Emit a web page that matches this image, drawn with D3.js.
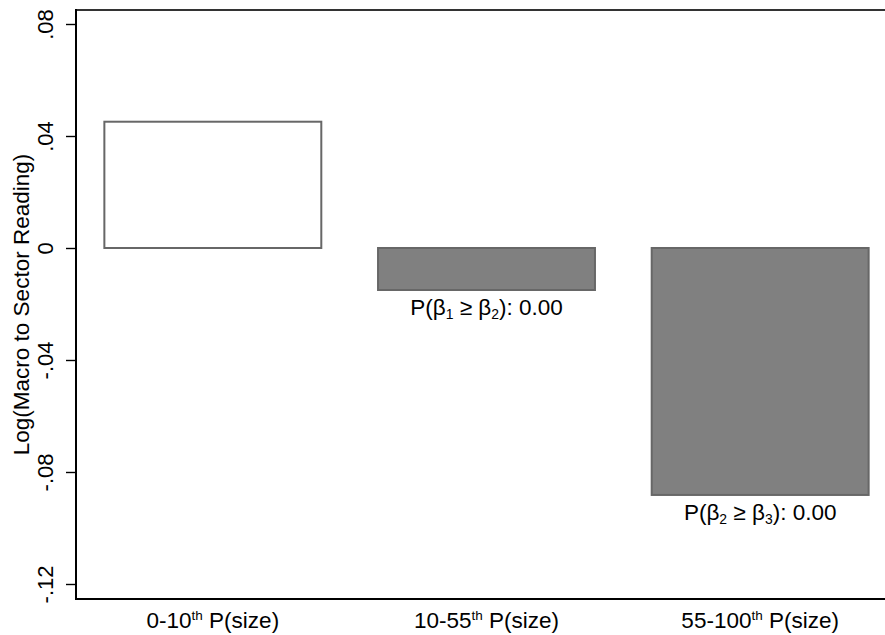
<!DOCTYPE html>
<html>
<head>
<meta charset="utf-8">
<script src="https://cdn.jsdelivr.net/npm/d3@7"></script>
<style>
  html, body { margin: 0; padding: 0; background: #fff; }
  svg { display: block; }
  text { font-family: Arial, "Liberation Sans", Helvetica, sans-serif; fill: #000; }
</style>
</head>
<body>
<svg id="chart" width="885" height="635"></svg>
<script>
// ---- data ----
const categories = ["0-10", "10-55", "55-100"];
const values = [0.0451, -0.0150, -0.0882];
const barFills = ["#ffffff", "#808080", "#808080"];
const yTicks = [0.08, 0.04, 0, -0.04, -0.08, -0.12];
const yTickLabels = [".08", ".04", "0", "-.04", "-.08", "-.12"];
const testBars = [1, 2];
const testBetas = [["1", "2"], ["2", "3"]];
const testValues = ["0.00", "0.00"];
const yTitle = "Log(Macro to Sector Reading)";

// ---- layout ----
const W = 885, H = 635;
const plotLeft = 76, plotTop = 10, plotBottom = 599;
const fontSize = 22.5;
const tickFont = 22;

const svg = d3.select("#chart");

const y = d3.scaleLinear().domain([-0.12536, 0.085]).range([plotBottom, plotTop]);
const x = d3.scaleBand().domain(categories).range([plotLeft, 897]).paddingInner(0.2).paddingOuter(0.1);

// top frame line
svg.append("line").attr("x1", plotLeft).attr("x2", W).attr("y1", plotTop).attr("y2", plotTop)
  .attr("stroke", "#333").attr("stroke-width", 2);

// bars
svg.append("g").selectAll("rect").data(values).join("rect")
  .attr("x", (d, i) => x(categories[i]) + 1)
  .attr("width", x.bandwidth() - 2)
  .attr("y", d => Math.min(y(d), y(0)))
  .attr("height", d => Math.abs(y(d) - y(0)))
  .attr("fill", (d, i) => barFills[i])
  .attr("stroke", "#676767")
  .attr("stroke-width", 2);

// y axis
const yAxis = d3.axisLeft(y).tickValues(yTicks).tickSize(10)
  .tickFormat((d, i) => yTickLabels[i]);
const gy = svg.append("g").attr("transform", `translate(${plotLeft},0)`).call(yAxis);
gy.select(".domain").remove();
gy.selectAll(".tick line").attr("stroke", "#000").attr("stroke-width", 1.4);
gy.selectAll(".tick text")
  .attr("font-size", tickFont)
  .attr("font-family", 'Arial, "Liberation Sans", sans-serif')
  .attr("text-anchor", "middle")
  .attr("x", null).attr("dy", null)
  .attr("transform", "translate(-23,0) rotate(-90)")
  .attr("y", 0);
svg.append("line").attr("x1", plotLeft).attr("x2", plotLeft).attr("y1", plotTop - 1).attr("y2", plotBottom + 1)
  .attr("stroke", "#000").attr("stroke-width", 2);

// x axis
const xAxis = d3.axisBottom(x).tickSize(0).tickFormat("");
const gx = svg.append("g").attr("transform", `translate(0,${plotBottom})`).call(xAxis);
gx.select(".domain").remove();
svg.append("line").attr("x1", plotLeft - 1).attr("x2", W).attr("y1", plotBottom).attr("y2", plotBottom)
  .attr("stroke", "#000").attr("stroke-width", 2);

gx.selectAll(".tick").each(function(d, i) {
  const t = d3.select(this).select("text")
    .attr("y", 0).attr("dy", null)
    .attr("transform", "translate(0,29)")
    .attr("font-size", fontSize)
    .attr("font-family", 'Arial, "Liberation Sans", sans-serif')
    .attr("text-anchor", "middle");
  t.text(null);
  t.append("tspan").text(d);
  t.append("tspan").attr("font-size", fontSize * 0.6).attr("dy", -8).text("th");
  t.append("tspan").attr("dy", 8).text(" P(size)");
});

// comparison labels under bars
testBars.forEach((bi, k) => {
  const cx = x(categories[bi]) + x.bandwidth() / 2;
  const t = svg.append("text")
    .attr("x", cx)
    .attr("y", y(values[bi]) + 25)
    .attr("font-size", fontSize)
    .attr("text-anchor", "middle");
  t.append("tspan").text("P(β");
  t.append("tspan").attr("font-size", fontSize * 0.62).attr("dy", 4).text(testBetas[k][0]);
  t.append("tspan").attr("dy", -4).text(" ≥ β");
  t.append("tspan").attr("font-size", fontSize * 0.62).attr("dy", 4).text(testBetas[k][1]);
  t.append("tspan").attr("dy", -4).text("): " + testValues[k]);
});

// y title
svg.append("text")
  .attr("transform", `translate(29,${(plotTop + plotBottom) / 2}) rotate(-90)`)
  .attr("text-anchor", "middle")
  .attr("font-size", fontSize)
  .text(yTitle);
</script>
</body>
</html>
